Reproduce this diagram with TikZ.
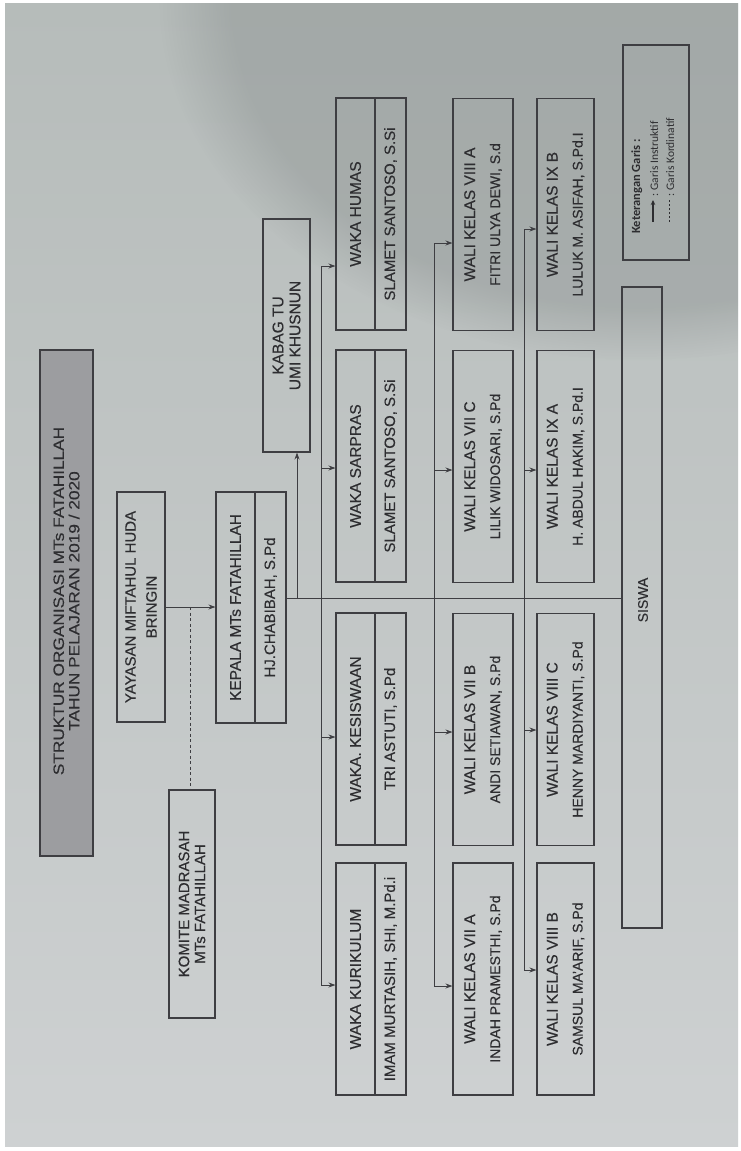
\documentclass[tikz,border=0pt]{standalone}
\usepackage{fontspec}
\setmainfont{Liberation Sans}[FakeBold=0.35]
\newfontfamily\legfont{Carlito}
\newfontfamily\titlefont{Liberation Sans}[FakeStretch=1.15,FakeBold=0.35]
\usetikzlibrary{arrows.meta,calc,fadings}
\definecolor{ink}{RGB}{45,45,48}
\definecolor{edge}{RGB}{62,62,66}
\definecolor{paperA}{RGB}{182,188,186}
\definecolor{paperB}{RGB}{206,209,210}
\definecolor{shadow}{RGB}{120,126,126}
\definecolor{titlefill}{RGB}{156,157,160}
\begin{document}
\begin{tikzpicture}[x=1pt,y=-1pt,
  box/.style={draw=edge, line width=1.1pt, rotate=90, inner sep=0pt, text=ink, align=center},
  rolebox/.style={box, font=\fontsize{15.5}{17}\selectfont},
  namebox/.style={box, font=\fontsize{15}{17}\selectfont},
  wali/.style={box, minimum width=232pt, font=\fontsize{15.5}{25}\selectfont},
  conn/.style={draw=edge, line width=1pt},
  arr/.style={conn, -{Stealth[length=7pt,width=5pt]}},
  coordline/.style={draw=edge, line width=0.8pt, dash pattern=on 3pt off 2.5pt},
  lbl/.style={rotate=90, text=ink, inner sep=0pt},
]
\useasboundingbox (0,0) rectangle (741,1151);
\fill[white] (0,0) rectangle (741,1151);
\shade[top color=paperA, bottom color=paperB] (5,3) rectangle (738,1146);
\begin{scope}
\clip (5,3) rectangle (738,1146);
\fill[shadow, opacity=0.3, path fading=circle with fuzzy edge 15 percent] (640,0) ellipse (480 and 360);
\end{scope}

% title
\node[box, fill=titlefill, minimum width=506pt, minimum height=53pt] (title) at (66.5,603) {};
\node[lbl, align=center, font=\titlefont\fontsize{15}{15.5}\selectfont] (titletext) at (66.5,601) {STRUKTUR ORGANISASI MTs FATAHILLAH\\TAHUN PELAJARAN 2019 / 2020};

% top level
\node[box, minimum width=230pt, minimum height=48pt, font=\fontsize{15}{21}\selectfont] (yay) at (141,607) {YAYASAN MIFTAHUL HUDA\\BRINGIN};
\node[box, minimum width=228pt, minimum height=46pt, font=\fontsize{15}{16}\selectfont] (kom) at (192,904) {KOMITE MADRASAH\\MTs FATAHILLAH};
\node[rolebox, minimum width=231pt, minimum height=39pt] (kep) at (235.5,607.5) {KEPALA MTs FATAHILLAH};
\node[namebox, minimum width=231pt, minimum height=31pt] (kepN) at (270.5,607.5) {HJ.CHABIBAH, S.Pd};
\node[box, minimum width=233pt, minimum height=47pt, font=\fontsize{15.5}{17}\selectfont] (kab) at (286.5,335.5) {KABAG TU\\UMI KHUSNUN};

% waka
\node[rolebox, minimum width=232pt, minimum height=39pt] (hum) at (355.5,214) {WAKA HUMAS};
\node[namebox, minimum width=232pt, minimum height=31pt] (humN) at (390.5,214) {SLAMET SANTOSO, S.Si};
\node[rolebox, minimum width=232pt, minimum height=39pt] (sar) at (355.5,466) {WAKA SARPRAS};
\node[namebox, minimum width=232pt, minimum height=31pt] (sarN) at (390.5,466) {SLAMET SANTOSO, S.Si};
\node[rolebox, minimum width=232pt, minimum height=39pt] (kes) at (355.5,729) {WAKA. KESISWAAN};
\node[namebox, minimum width=232pt, minimum height=31pt] (kesN) at (390.5,729) {TRI ASTUTI, S.Pd};
\node[rolebox, minimum width=232pt, minimum height=39pt] (kur) at (355.5,979) {WAKA KURIKULUM};
\node[namebox, minimum width=232pt, minimum height=31pt] (kurN) at (390.5,979) {IMAM MURTASIH, SHI, M.Pd.i};

% wali kelas row 1
\node[wali, minimum height=60pt] (w8a) at (483,214.5) {WALI KELAS VIII A\\{\fontsize{14}{25}\selectfont FITRI ULYA DEWI, S.d}};
\node[wali, minimum height=60pt] (w7c) at (483,466.5) {WALI KELAS VII C\\{\fontsize{14}{25}\selectfont LILIK WIDOSARI, S.Pd}};
\node[wali, minimum height=60pt] (w7b) at (483,729.5) {WALI KELAS VII B\\{\fontsize{14}{25}\selectfont ANDI SETIAWAN, S.Pd}};
\node[wali, minimum height=60pt] (w7a) at (483,979) {WALI KELAS VII A\\{\fontsize{14}{25}\selectfont INDAH PRAMESTHI, S.Pd}};
% wali kelas row 2
\node[wali, minimum height=57pt] (w9b) at (565.5,214.5) {WALI KELAS IX B\\{\fontsize{14}{25}\selectfont LULUK M. ASIFAH, S.Pd.I}};
\node[wali, minimum height=57pt] (w9a) at (565.5,466.5) {WALI KELAS IX A\\{\fontsize{14}{25}\selectfont H. ABDUL HAKIM, S.Pd.I}};
\node[wali, minimum height=57pt] (w8c) at (565.5,729.5) {WALI KELAS VIII C\\{\fontsize{14}{25}\selectfont HENNY MARDIYANTI, S.Pd}};
\node[wali, minimum height=57pt] (w8b) at (565.5,979) {WALI KELAS VIII B\\{\fontsize{14}{25}\selectfont SAMSUL MA'ARIF, S.Pd}};

% siswa
\node[box, minimum width=641pt, minimum height=40pt] (sis) at (642,607.5) {};
\node[lbl, font=\fontsize{14}{16}\selectfont] (sistext) at (643,600) {SISWA};

% legend
\node[box, minimum width=215pt, minimum height=66pt] (leg) at (656,152.5) {};
\node[lbl, anchor=base west, font=\legfont\bfseries\fontsize{12.5}{14}\selectfont] (legt) at (640,234) {Keterangan Garis :};
\node[lbl, anchor=base west, font=\legfont\fontsize{11.5}{14}\selectfont] (legi) at (658,197) {: Garis Instruktif};
\node[lbl, anchor=base west, font=\legfont\fontsize{11.5}{14}\selectfont] (legk) at (674,197) {: Garis Kordinatif};
\coordinate (la1) at (653,222);
\coordinate (la2) at (653,200);
\coordinate (lk1) at (669,222);
\coordinate (lk2) at (669,200);
\draw[draw=ink, line width=1.3pt, -{Stealth[length=5pt,width=4.5pt]}] (la1) -- (la2);
\draw[draw=ink, line width=1pt, dash pattern=on 2pt off 2pt] (lk1) -- (lk2);

% connectors
\coordinate (yk) at (165,607);
\coordinate (dk) at (190,607);
\draw[arr] (yay.south |- yk) -- (kep.north |- yk);
\draw[coordline] (dk) -- (dk |- kom.east);

\coordinate (ml) at (286,598);
\draw[conn] (kepN.south |- ml) -- (sis.north |- ml);
\coordinate (kb) at (297,598);
\draw[arr] (kb) -- (kb |- kab.west);

% waka bus
\coordinate (a11) at (321,266);
\coordinate (a12) at (321,468);
\coordinate (a13) at (321,737);
\coordinate (a14) at (321,985);
\draw[conn] (a11) -- (a14);
\draw[arr] (a11) -- (hum.north |- a11);
\draw[arr] (a12) -- (sar.north |- a12);
\draw[arr] (a13) -- (kes.north |- a13);
\draw[arr] (a14) -- (kur.north |- a14);

% wali bus 1
\coordinate (a21) at (434,243);
\coordinate (a22) at (434,470);
\coordinate (a23) at (434,732);
\coordinate (a24) at (434,986);
\draw[conn] (a21) -- (a24);
\draw[arr] (a21) -- (w8a.north |- a21);
\draw[arr] (a22) -- (w7c.north |- a22);
\draw[arr] (a23) -- (w7b.north |- a23);
\draw[arr] (a24) -- (w7a.north |- a24);

% wali bus 2
\coordinate (a31) at (524,229);
\coordinate (a32) at (524,470);
\coordinate (a33) at (524,730);
\coordinate (a34) at (524,970);
\draw[conn] (a31) -- (a34);
\draw[arr] (a31) -- (w9b.north |- a31);
\draw[arr] (a32) -- (w9a.north |- a32);
\draw[arr] (a33) -- (w8c.north |- a33);
\draw[arr] (a34) -- (w8b.north |- a34);
\end{tikzpicture}
\end{document}
